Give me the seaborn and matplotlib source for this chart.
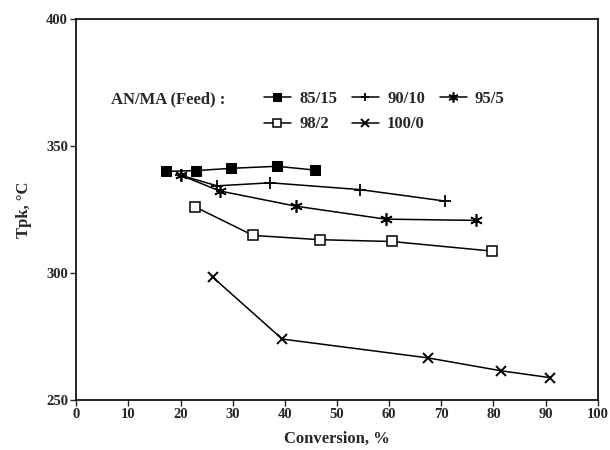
import matplotlib
matplotlib.use("Agg")
import matplotlib.pyplot as plt
import seaborn as sns
import pandas as pd

# conversion (%) and peak temperature (°C) for each AN/MA feed ratio
conv_85_15 = [17.2, 23.0, 29.7, 38.5, 45.8]
tpk_85_15 = [340.0, 340.3, 341.2, 342.0, 340.5]

conv_90_10 = [20.0, 27.0, 37.2, 54.5, 70.7]
tpk_90_10 = [338.5, 334.3, 335.5, 332.8, 328.3]

conv_95_5 = [20.0, 27.5, 42.1, 59.3, 76.6]
tpk_95_5 = [338.5, 332.3, 326.3, 321.2, 320.7]

conv_98_2 = [22.8, 33.9, 46.7, 60.5, 79.8]
tpk_98_2 = [326.0, 314.8, 313.1, 312.4, 308.6]

conv_100_0 = [26.2, 39.5, 67.4, 81.5, 90.9]
tpk_100_0 = [298.3, 274.0, 266.6, 261.5, 258.8]

feeds = ["85/15", "90/10", "95/5", "98/2", "100/0"]
series = {
    "85/15": (conv_85_15, tpk_85_15),
    "90/10": (conv_90_10, tpk_90_10),
    "95/5": (conv_95_5, tpk_95_5),
    "98/2": (conv_98_2, tpk_98_2),
    "100/0": (conv_100_0, tpk_100_0),
}

styles = {
    "85/15": dict(marker="s", mfc="black", ms=6.5),
    "90/10": dict(marker="+", mfc="black", ms=8, mew=1.3),
    "95/5": dict(marker=(6, 2, 0), mfc="black", ms=9, mew=1.2),
    "98/2": dict(marker="s", mfc="white", ms=6.5, mew=1.1),
    "100/0": dict(marker="x", mfc="black", ms=7.5, mew=1.4),
}

sns.set_style("ticks")
plt.rcParams["font.family"] = ["Liberation Serif", "DejaVu Serif"]
plt.rcParams["font.weight"] = "bold"

fig = plt.figure(figsize=(6.1, 4.5), dpi=100)
ax = fig.add_axes([0.125, 0.111, 0.855, 0.847])

handles = {}
for feed in feeds:
    x, y = series[feed]
    df = pd.DataFrame({"conv": x, "tpk": y})
    sns.lineplot(data=df, x="conv", y="tpk", ax=ax, color="black", lw=1.1,
                 mec="black", sort=False, label=feed, **styles[feed])
    handles[feed] = ax.get_lines()[-1]

ax.set_xlim(0, 100)
ax.set_ylim(250, 400)
ax.set_xticks(range(0, 101, 10))
ax.set_yticks([250, 300, 350, 400])
ax.tick_params(axis="both", labelsize=10.5, length=4, width=1, direction="out", pad=2)
for lab in ax.get_xticklabels() + ax.get_yticklabels():
    lab.set_fontweight("bold")
for sp in ax.spines.values():
    sp.set_linewidth(1.2)
    sp.set_color("black")

ax.set_xlabel("Conversion, %", fontsize=12, fontweight="bold", labelpad=7)
ax.set_ylabel("Tpk, °C", fontsize=12, fontweight="bold", labelpad=10)

order = ["85/15", "98/2", "90/10", "100/0", "95/5"]
ax.legend([handles[k] for k in order], order, ncol=3, frameon=False,
          loc="upper left", bbox_to_anchor=(0.36, 0.81), borderpad=0,
          borderaxespad=0, handlelength=1.6, markerscale=0.8,
          handletextpad=0.5, columnspacing=0.9, labelspacing=0.55,
          prop={"size": 12, "weight": "bold"})
ax.text(0.066, 0.79, "AN/MA (Feed) :", transform=ax.transAxes,
        fontsize=12, fontweight="bold", va="center")

fig.savefig("out.png", dpi=100)
plt.close(fig)
